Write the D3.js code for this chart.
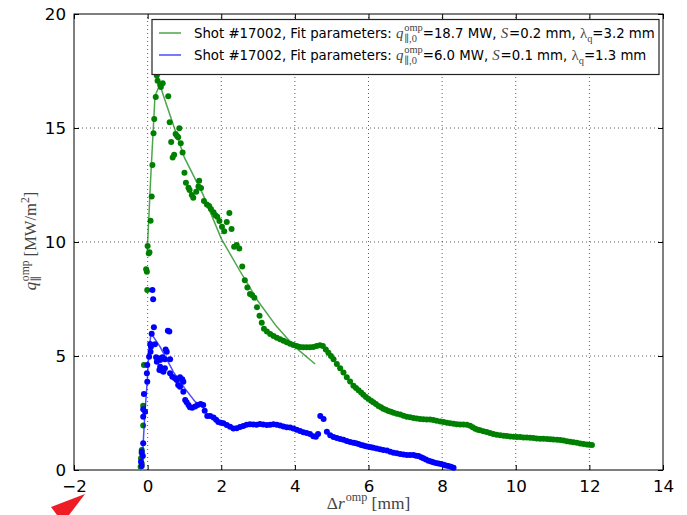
<!DOCTYPE html>
<html>
<head>
<meta charset="utf-8">
<script src="https://cdn.jsdelivr.net/npm/d3@7"></script>
<style>
body { margin: 0; background: #fff; }
svg { display: block; }
text { white-space: pre; }
</style>
</head>
<body>
<div id="chart"></div>
<script>
// values (x: mm, y: MW/m^2)
var greenX = [-0.19,-0.16,-0.18,-0.16,-0.16,-0.12,-0.12,-0.10,-0.01,-0.04,-0.02,0.00,0.03,0.05,0.08,0.11,0.13,0.16,0.18,0.22,0.25,0.27,0.34,0.36,0.41,
  0.56,0.60,0.64,0.68,0.72,0.76,0.80,0.83,0.86,0.90,0.95,1.00,1.04,1.11,1.14,1.20,1.24,1.32,1.38,1.40,1.45,1.53,1.61,1.67,1.72,1.79,1.84,1.89,1.95,
  2.02,2.08,2.15,2.22,2.28,2.35,2.42,2.49,2.57,2.64,2.71,2.78,2.84,2.90,2.97,3.04,3.10,3.16,3.24,3.33,3.42,3.51,3.60,3.69,3.78,3.87,3.96,4.05,
  4.14,4.23,4.32,4.41,4.50,4.59,4.68,4.76,4.84,4.91,4.98,5.05,5.14,5.23,5.32,5.41,5.50,5.59,5.66,5.73,5.80,5.86,5.93,6.00,6.07,6.13,6.20,6.27,
  6.34,6.40,6.47,6.54,6.61,6.68,6.77,6.86,6.95,7.04,7.13,7.22,7.31,7.40,7.49,7.58,7.67,7.76,7.85,7.95,8.04,8.13,8.22,8.31,8.40,8.49,8.58,8.67,
  8.76,8.83,8.90,8.97,9.03,9.12,9.21,9.30,9.39,9.48,9.58,9.67,9.76,9.85,9.94,10.03,10.12,10.21,10.30,10.39,10.48,10.57,10.66,10.75,10.85,10.94,
  11.02,11.12,11.21,11.30,11.39,11.48,11.57,11.66,11.75,11.84,11.93,12.00,12.07];
var greenY = [0.14,0.29,0.51,0.73,0.88,1.95,2.82,4.60,7.90,8.80,8.70,9.82,9.50,9.55,10.93,12.00,13.38,14.77,15.40,16.36,17.30,17.07,16.90,16.80,16.96,
  16.39,15.25,14.39,13.71,13.83,14.74,14.65,14.59,14.99,14.33,13.92,13.04,12.60,12.38,12.28,12.06,11.94,12.20,12.43,12.69,12.37,11.80,11.65,11.58,11.45,11.30,11.17,11.11,10.92,
  10.67,10.47,10.88,11.27,10.57,9.79,9.87,9.71,8.93,8.32,8.00,7.72,7.66,7.56,7.14,6.77,6.46,6.20,6.07,5.96,5.88,5.80,5.73,5.67,5.60,5.54,5.48,5.44,
  5.39,5.38,5.38,5.38,5.40,5.44,5.47,5.44,5.28,5.14,5.00,4.86,4.65,4.46,4.28,4.07,3.88,3.70,3.60,3.50,3.40,3.30,3.20,3.11,3.04,2.97,2.89,2.81,
  2.75,2.69,2.64,2.59,2.55,2.51,2.47,2.43,2.38,2.34,2.31,2.28,2.26,2.24,2.23,2.22,2.21,2.19,2.16,2.13,2.10,2.07,2.05,2.03,2.01,2.00,2.00,1.99,
  1.94,1.87,1.81,1.77,1.74,1.70,1.67,1.62,1.58,1.55,1.52,1.50,1.49,1.47,1.46,1.45,1.45,1.43,1.42,1.41,1.40,1.38,1.37,1.37,1.36,1.35,
  1.34,1.33,1.32,1.29,1.26,1.24,1.22,1.19,1.16,1.14,1.12,1.11,1.10];

var blueX = [-0.16,-0.18,-0.13,-0.16,-0.12,-0.12,-0.12,-0.07,-0.10,-0.01,-0.02,-0.01,0.04,0.08,0.09,0.07,0.11,0.13,0.15,0.17,0.20,
  0.23,0.29,0.34,0.40,0.47,0.25,0.34,0.38,0.43,0.32,0.47,0.52,0.61,0.55,0.59,0.49,0.61,0.67,0.74,0.79,0.88,0.94,0.97,0.83,0.88,0.97,
  1.02,1.06,1.11,1.15,1.21,1.29,1.36,1.44,1.51,1.55,1.62,1.70,1.79,1.86,1.92,1.99,2.06,2.15,2.24,2.33,2.42,2.51,2.60,2.69,2.78,2.87,
  2.96,3.05,3.14,3.24,3.33,3.42,3.51,3.60,3.69,3.78,3.87,3.96,4.05,4.14,4.23,4.32,4.41,4.50,4.57,4.63,4.69,4.78,4.87,4.96,5.05,5.14,
  5.23,5.32,5.41,5.50,5.59,5.66,5.73,5.80,5.86,5.93,6.00,6.07,6.13,6.22,6.31,6.40,6.50,6.59,6.68,6.77,6.86,6.95,7.04,7.13,7.22,7.29,
  7.36,7.43,7.49,7.56,7.63,7.70,7.76,7.83,7.90,7.97,8.04,8.10,8.17,8.24,8.31];
var blueY = [0.18,0.36,0.61,0.80,1.17,2.34,2.66,2.56,3.33,3.87,4.24,4.60,4.97,5.19,5.41,5.53,5.98,7.90,7.49,6.26,5.51,
  4.94,4.90,4.82,4.94,4.86,4.75,4.53,4.36,4.31,4.39,4.46,5.19,4.86,6.11,6.07,5.29,4.24,4.09,4.02,3.95,4.07,3.98,3.87,3.73,3.65,3.43,
  3.07,2.97,2.85,2.75,2.73,2.78,2.85,2.89,2.85,2.60,2.37,2.37,2.30,2.20,2.10,2.07,2.05,1.97,1.90,1.82,1.83,1.89,1.93,1.98,2.01,2.00,
  1.99,2.02,2.00,1.97,1.99,2.01,1.99,1.95,1.91,1.88,1.86,1.82,1.76,1.71,1.66,1.62,1.58,1.48,1.46,1.58,2.37,2.24,1.68,1.52,1.45,1.40,
  1.36,1.33,1.27,1.23,1.20,1.17,1.14,1.10,1.07,1.04,1.02,1.00,0.98,0.94,0.91,0.88,0.85,0.80,0.76,0.73,0.70,0.68,0.66,0.66,0.66,0.63,
  0.61,0.56,0.51,0.46,0.41,0.37,0.34,0.31,0.29,0.26,0.23,0.20,0.18,0.14,0.10];

// fitted profiles as drawn
var greenFitX = [-0.01,0.08,0.20,0.33,0.60,1.00,1.50,2.00,2.50,3.00,3.50,4.00,4.55];
var greenFitY = [9.6,12.7,16.4,16.9,15.6,13.7,12.1,10.15,8.75,7.4,6.3,5.4,4.65];
var blueFitX = [-0.16,-0.12,-0.07,-0.01,0.03,0.09,0.34,0.70,1.00,1.29,1.50];
var blueFitY = [0.1,1.2,2.6,3.9,5.1,6.0,5.4,4.3,3.6,3.0,2.75];

var xTicks = [-2,0,2,4,6,8,10,12,14];
var yTicks = [0,5,10,15,20];

const WIDTH = 687, HEIGHT = 515;
const SANS = "'DejaVu Sans', sans-serif";
const SERIF = "'Liberation Serif', 'DejaVu Serif', serif";
const MATHCOL = "#444";

var svg = d3.select("#chart").append("svg")
  .attr("width", WIDTH).attr("height", HEIGHT);

var x = d3.scaleLinear().domain([-2, 14]).range([74, 663]);
var y = d3.scaleLinear().domain([0, 20]).range([470, 14]);

// grid
var grid = svg.append("g").attr("stroke", "#000").attr("stroke-width", 0.8)
  .attr("stroke-dasharray", "1,3").attr("opacity", 0.8);
grid.selectAll("line.gx").data(xTicks.slice(1, -1)).enter().append("line")
  .attr("x1", d => x(d)).attr("x2", d => x(d)).attr("y1", y(0)).attr("y2", y(20));
grid.selectAll("line.gy").data(yTicks.slice(1, -1)).enter().append("line")
  .attr("y1", d => y(d)).attr("y2", d => y(d)).attr("x1", x(-2)).attr("x2", x(14));

// axes, classic inward ticks on all sides
function styleAxis(g) {
  g.selectAll("path").remove();
  g.selectAll("line").attr("stroke", "#000");
  g.selectAll("text").style("font-family", SANS).style("font-size", "16.7px").attr("fill", "#000");
}
svg.append("g").attr("transform", "translate(0," + y(0) + ")")
  .call(d3.axisBottom(x).tickValues(xTicks).tickSize(-5).tickPadding(10)
    .tickFormat(d => d < 0 ? "\u2212" + Math.abs(d) : d))
  .call(styleAxis);
svg.append("g").attr("transform", "translate(0," + y(20) + ")")
  .call(d3.axisTop(x).tickValues(xTicks).tickSize(-5).tickFormat(""))
  .call(styleAxis);
svg.append("g").attr("transform", "translate(" + x(-2) + ",0)")
  .call(d3.axisLeft(y).tickValues(yTicks).tickSize(-5).tickPadding(8))
  .call(styleAxis);
svg.append("g").attr("transform", "translate(" + x(14) + ",0)")
  .call(d3.axisRight(y).tickValues(yTicks).tickSize(-5).tickFormat(""))
  .call(styleAxis);

svg.append("rect").attr("x", x(-2)).attr("y", y(20))
  .attr("width", x(14) - x(-2)).attr("height", y(0) - y(20))
  .attr("fill", "none").attr("stroke", "#000").attr("stroke-width", 1);

// data
var plot = svg.append("g");
function dots(xs, ys, col) {
  plot.append("g").selectAll("circle").data(xs).enter().append("circle")
    .attr("cx", d => x(d)).attr("cy", (d, i) => y(ys[i])).attr("r", 3)
    .attr("fill", col);
}
function fitLine(xs, ys, col) {
  var line = d3.line().x(d => x(d)).y((d, i) => y(ys[i]));
  plot.append("path").attr("d", line(xs)).attr("fill", "none")
    .attr("stroke", col).attr("stroke-opacity", 0.7).attr("stroke-width", 1.5);
}
dots(greenX, greenY, "#008000");
dots(blueX, blueY, "#0000ff");
fitLine(greenFitX, greenFitY, "#008000");
fitLine(blueFitX, blueFitY, "#0000ff");

// text with sub/superscripts; serif (math) runs are drawn a bit larger
function richText(parent, items, size) {
  var g = parent.append("g");
  var cx = 0;
  var ms = size * 1.12;
  function run(t, fam, it, sz, dy, col) {
    var el = g.append("text").attr("x", cx).attr("y", dy)
      .style("font-family", fam).style("font-size", sz + "px")
      .style("font-style", it ? "italic" : "normal").attr("fill", col).text(t);
    return el.node().getComputedTextLength();
  }
  items.forEach(function(p) {
    var serif = p.f == "serif";
    var fam = serif ? SERIF : SANS;
    var col = serif ? MATHCOL : "#000";
    var sz = serif ? ms : size;
    if (p.t) cx += run(p.t, fam, p.it, sz, 0, col) + (p.it ? size * 0.06 : 0);
    var w = 0;
    if (p.sup) w = Math.max(w, run(p.sup, SERIF, false, ms * 0.7, -ms * 0.45, MATHCOL));
    if (p.sub) w = Math.max(w, run(p.sub, SERIF, p.subIt, ms * 0.7, ms * 0.25, MATHCOL));
    cx += w;
  });
  return { g: g, width: cx };
}

// axis labels
var xl = richText(svg, [
  { t: "\u0394", f: "serif" }, { t: "r", f: "serif", it: true, sup: "omp" },
  { t: " [mm]", f: "serif" }], 15.5);
xl.g.attr("transform", "translate(" + (368.5 - xl.width / 2) + ",509)");

var ylg = svg.append("g").attr("transform", "translate(36,241) rotate(-90)");
var yl = richText(ylg, [
  { t: "q", f: "serif", it: true, sup: "omp", sub: "\u2225" },
  { t: " [MW/m", f: "serif", sup: "2" }, { t: "]", f: "serif" }], 14.8);
yl.g.attr("transform", "translate(" + (-yl.width / 2) + ",0)");

// legend
var legend = svg.append("g");
legend.append("rect").attr("x", 152).attr("y", 19.5).attr("width", 507).attr("height", 55)
  .attr("fill", "#fff").attr("stroke", "#222").attr("stroke-width", 1.2);
var legendRows = [
  { col: "#008000", q0: "=18.7 MW, ", s: "=0.2 mm, ", lq: "=3.2 mm" },
  { col: "#0000ff", q0: "=6.0 MW, ", s: "=0.1 mm, ", lq: "=1.3 mm" }
];
legendRows.forEach(function(r, i) {
  var cy = 33 + i * 22;
  legend.append("line").attr("x1", 159).attr("x2", 181).attr("y1", cy).attr("y2", cy)
    .attr("stroke", r.col).attr("stroke-opacity", 0.7).attr("stroke-width", 1.5);
  var t = richText(legend, [
    { t: "Shot #17002, Fit parameters: " },
    { t: "q", f: "serif", it: true, sup: "omp", sub: "\u2225,0" },
    { t: r.q0 }, { t: "S", f: "serif", it: true }, { t: r.s },
    { t: "\u03bb", f: "serif", sub: "q" }, { t: r.lq }], 13.3);
  t.g.attr("transform", "translate(194," + (cy + 4.8) + ")");
});

// red arrow marker in the bottom-left corner
svg.append("path").attr("d", "M85,494 L51,507 L63,523 Z").attr("fill", "#ee1c25");
</script>
</body>
</html>
